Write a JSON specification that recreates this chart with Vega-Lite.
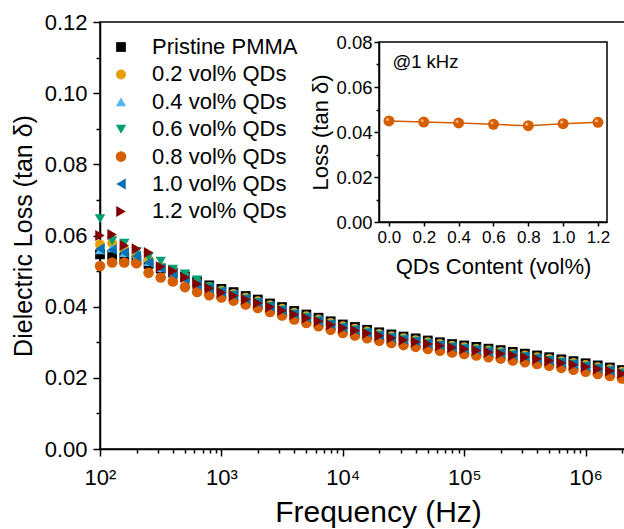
{
  "$schema": "https://vega.github.io/schema/vega-lite/v6.json",
  "width": 525,
  "height": 427,
  "autosize": "none",
  "padding": {"left": 100, "top": 22, "right": 0, "bottom": 80},
  "config": {
    "font": "Liberation Sans",
    "view": {"stroke": "black", "strokeWidth": 1.5},
    "axis": {"domainColor": "black", "domainWidth": 1.5, "tickColor": "black", "tickWidth": 1.5, "labelColor": "black", "titleColor": "black", "titleFontWeight": "normal", "grid": false, "labelFlush": false, "labelBound": false, "labelOverlap": false}
  },
  "datasets": {
    "inset": [
      {"c": 0.0, "v": 0.0449}, {"c": 0.2, "v": 0.0444}, {"c": 0.4, "v": 0.0440}, {"c": 0.6, "v": 0.0434}, {"c": 0.8, "v": 0.0428}, {"c": 1.0, "v": 0.0437}, {"c": 1.2, "v": 0.0443}
    ]
  },
  "layer": [
    {
      "data": {"values": [
        {"f": 100, "p00": 0.0547, "p02": 0.0575, "p04": 0.0560, "p06": 0.0647, "p08": 0.0514, "p10": 0.0563, "p12": 0.0600},
        {"f": 125.9, "p00": 0.0545, "p02": 0.0578, "p04": 0.0565, "p06": 0.0585, "p08": 0.0524, "p10": 0.0560, "p12": 0.0603},
        {"f": 158.5, "p00": 0.0538, "p02": 0.0560, "p04": 0.0552, "p06": 0.0578, "p08": 0.0524, "p10": 0.0552, "p12": 0.0572},
        {"f": 199.5, "p00": 0.0530, "p02": 0.0545, "p04": 0.0538, "p06": 0.0555, "p08": 0.0522, "p10": 0.0542, "p12": 0.0563},
        {"f": 251.2, "p00": 0.0520, "p02": 0.0532, "p04": 0.0527, "p06": 0.0540, "p08": 0.0495, "p10": 0.0524, "p12": 0.0552},
        {"f": 316.2, "p00": 0.0507, "p02": 0.0512, "p04": 0.0510, "p06": 0.0528, "p08": 0.0482, "p10": 0.0508, "p12": 0.0512},
        {"f": 398.1, "p00": 0.0496, "p02": 0.0498, "p04": 0.0497, "p06": 0.0505, "p08": 0.0471, "p10": 0.0492, "p12": 0.0500},
        {"f": 501.2, "p00": 0.0485, "p02": 0.0485, "p04": 0.0484, "p06": 0.0492, "p08": 0.0455, "p10": 0.0478, "p12": 0.0482},
        {"f": 631, "p00": 0.0470, "p02": 0.0467, "p04": 0.0467, "p06": 0.0475, "p08": 0.0441, "p10": 0.0462, "p12": 0.0464},
        {"f": 794.3, "p00": 0.0460, "p02": 0.0455, "p04": 0.0456, "p06": 0.0455, "p08": 0.0432, "p10": 0.0452, "p12": 0.0452},
        {"f": 1000, "p00": 0.0450, "p02": 0.0445, "p04": 0.0446, "p06": 0.0441, "p08": 0.0426, "p10": 0.0442, "p12": 0.0440},
        {"f": 1259, "p00": 0.0441, "p02": 0.0436, "p04": 0.0437, "p06": 0.0432, "p08": 0.0417, "p10": 0.0433, "p12": 0.0431},
        {"f": 1585, "p00": 0.0430, "p02": 0.0425, "p04": 0.0426, "p06": 0.0421, "p08": 0.0406, "p10": 0.0422, "p12": 0.0420},
        {"f": 1995, "p00": 0.0420, "p02": 0.0415, "p04": 0.0416, "p06": 0.0411, "p08": 0.0396, "p10": 0.0412, "p12": 0.0410},
        {"f": 2512, "p00": 0.0409, "p02": 0.0404, "p04": 0.0405, "p06": 0.0400, "p08": 0.0385, "p10": 0.0401, "p12": 0.0399},
        {"f": 3162, "p00": 0.0399, "p02": 0.0394, "p04": 0.0395, "p06": 0.0390, "p08": 0.0375, "p10": 0.0391, "p12": 0.0389},
        {"f": 3981, "p00": 0.0388, "p02": 0.0383, "p04": 0.0384, "p06": 0.0379, "p08": 0.0364, "p10": 0.0380, "p12": 0.0378},
        {"f": 5012, "p00": 0.0378, "p02": 0.0373, "p04": 0.0374, "p06": 0.0369, "p08": 0.0354, "p10": 0.0370, "p12": 0.0368},
        {"f": 6310, "p00": 0.0369, "p02": 0.0364, "p04": 0.0365, "p06": 0.0360, "p08": 0.0345, "p10": 0.0361, "p12": 0.0359},
        {"f": 7943, "p00": 0.0359, "p02": 0.0354, "p04": 0.0355, "p06": 0.0350, "p08": 0.0335, "p10": 0.0351, "p12": 0.0349},
        {"f": 10000, "p00": 0.0350, "p02": 0.0345, "p04": 0.0346, "p06": 0.0341, "p08": 0.0326, "p10": 0.0342, "p12": 0.0340},
        {"f": 12589, "p00": 0.0343, "p02": 0.0338, "p04": 0.0339, "p06": 0.0334, "p08": 0.0319, "p10": 0.0335, "p12": 0.0333},
        {"f": 15849, "p00": 0.0335, "p02": 0.0330, "p04": 0.0331, "p06": 0.0326, "p08": 0.0311, "p10": 0.0327, "p12": 0.0325},
        {"f": 19953, "p00": 0.0328, "p02": 0.0323, "p04": 0.0324, "p06": 0.0319, "p08": 0.0304, "p10": 0.0320, "p12": 0.0318},
        {"f": 25119, "p00": 0.0322, "p02": 0.0317, "p04": 0.0318, "p06": 0.0313, "p08": 0.0298, "p10": 0.0314, "p12": 0.0312},
        {"f": 31623, "p00": 0.0316, "p02": 0.0311, "p04": 0.0312, "p06": 0.0307, "p08": 0.0292, "p10": 0.0308, "p12": 0.0306},
        {"f": 39811, "p00": 0.0311, "p02": 0.0306, "p04": 0.0307, "p06": 0.0302, "p08": 0.0287, "p10": 0.0303, "p12": 0.0301},
        {"f": 50119, "p00": 0.0305, "p02": 0.0300, "p04": 0.0301, "p06": 0.0296, "p08": 0.0281, "p10": 0.0297, "p12": 0.0295},
        {"f": 63096, "p00": 0.0300, "p02": 0.0295, "p04": 0.0296, "p06": 0.0291, "p08": 0.0276, "p10": 0.0292, "p12": 0.0290},
        {"f": 79433, "p00": 0.0295, "p02": 0.0290, "p04": 0.0291, "p06": 0.0286, "p08": 0.0271, "p10": 0.0287, "p12": 0.0285},
        {"f": 100000, "p00": 0.0291, "p02": 0.0286, "p04": 0.0287, "p06": 0.0282, "p08": 0.0267, "p10": 0.0283, "p12": 0.0281},
        {"f": 125893, "p00": 0.0287, "p02": 0.0282, "p04": 0.0283, "p06": 0.0278, "p08": 0.0263, "p10": 0.0279, "p12": 0.0277},
        {"f": 158489, "p00": 0.0282, "p02": 0.0277, "p04": 0.0278, "p06": 0.0273, "p08": 0.0258, "p10": 0.0274, "p12": 0.0272},
        {"f": 199526, "p00": 0.0278, "p02": 0.0273, "p04": 0.0274, "p06": 0.0269, "p08": 0.0254, "p10": 0.0270, "p12": 0.0268},
        {"f": 251189, "p00": 0.0273, "p02": 0.0268, "p04": 0.0269, "p06": 0.0264, "p08": 0.0249, "p10": 0.0265, "p12": 0.0263},
        {"f": 316228, "p00": 0.0268, "p02": 0.0263, "p04": 0.0264, "p06": 0.0259, "p08": 0.0244, "p10": 0.0260, "p12": 0.0258},
        {"f": 398107, "p00": 0.0263, "p02": 0.0258, "p04": 0.0259, "p06": 0.0254, "p08": 0.0239, "p10": 0.0255, "p12": 0.0253},
        {"f": 501187, "p00": 0.0258, "p02": 0.0253, "p04": 0.0254, "p06": 0.0249, "p08": 0.0234, "p10": 0.0250, "p12": 0.0248},
        {"f": 630957, "p00": 0.0252, "p02": 0.0247, "p04": 0.0248, "p06": 0.0243, "p08": 0.0228, "p10": 0.0244, "p12": 0.0242},
        {"f": 794328, "p00": 0.0247, "p02": 0.0242, "p04": 0.0243, "p06": 0.0238, "p08": 0.0223, "p10": 0.0239, "p12": 0.0237},
        {"f": 1000000, "p00": 0.0241, "p02": 0.0236, "p04": 0.0237, "p06": 0.0232, "p08": 0.0217, "p10": 0.0233, "p12": 0.0231},
        {"f": 1258925, "p00": 0.0235, "p02": 0.0230, "p04": 0.0231, "p06": 0.0226, "p08": 0.0211, "p10": 0.0227, "p12": 0.0225},
        {"f": 1584893, "p00": 0.0229, "p02": 0.0224, "p04": 0.0225, "p06": 0.0220, "p08": 0.0205, "p10": 0.0221, "p12": 0.0219},
        {"f": 1995262, "p00": 0.0222, "p02": 0.0217, "p04": 0.0218, "p06": 0.0213, "p08": 0.0198, "p10": 0.0214, "p12": 0.0212}
      ]},
      "transform": [{"fold": ["p00", "p02", "p04", "p06", "p08", "p10", "p12"], "as": ["s", "v"]}],
      "mark": {"type": "point", "filled": true, "opacity": 1, "strokeWidth": 0},
      "encoding": {
        "x": {
          "field": "f", "type": "quantitative",
          "scale": {"type": "log", "domain": [100, 2111000], "nice": false},
          "axis": {
            "values": [100, 200, 300, 400, 500, 600, 700, 800, 900, 1000, 2000, 3000, 4000, 5000, 6000, 7000, 8000, 9000, 10000, 20000, 30000, 40000, 50000, 60000, 70000, 80000, 90000, 100000, 200000, 300000, 400000, 500000, 600000, 700000, 800000, 900000, 1000000, 2000000],
            "labelExpr": "abs(log(datum.value)/LN10 - round(log(datum.value)/LN10)) < 0.01 ? '10' + ['⁰','¹','²','³','⁴','⁵','⁶','⁷'][round(log(datum.value)/LN10)] : ''",
            "tickSize": {"condition": {"test": "abs(log(datum.value)/LN10 - round(log(datum.value)/LN10)) < 0.01", "value": 7}, "value": 4},
            "labelFontSize": 22, "labelPadding": 11,
            "title": "Frequency (Hz)", "titleFontSize": 30, "titleX": 278, "titleY": 72, "titleAlign": "center", "titleBaseline": "alphabetic"
          }
        },
        "y": {
          "field": "v", "type": "quantitative",
          "scale": {"domain": [0, 0.12], "nice": false, "zero": false},
          "axis": {
            "values": [0, 0.01, 0.02, 0.03, 0.04, 0.05, 0.06, 0.07, 0.08, 0.09, 0.1, 0.11, 0.12],
            "labelExpr": "round(datum.value*100) % 2 == 0 ? format(datum.value, '.2f') : ''",
            "tickSize": {"condition": {"test": "round(datum.value*100) % 2 == 0", "value": 7}, "value": 4},
            "labelFontSize": 22, "labelPadding": 6,
            "title": "Dielectric Loss (tan δ)", "titleFontSize": 25, "titlePadding": 8
          }
        },
        "color": {
          "field": "s", "type": "nominal",
          "scale": {"domain": ["p00", "p02", "p04", "p06", "p08", "p10", "p12"], "range": ["#000000", "#E69F00", "#56B4E9", "#009E73", "#D55E00", "#0072B2", "#800000"]},
          "legend": {"orient": "none", "legendX": 10, "legendY": 14, "title": null, "padding": 0, "labelFontSize": 22, "labelColor": "black", "symbolSize": 150, "symbolStrokeWidth": 0, "labelOffset": 20, "rowPadding": 5.4,
            "labelExpr": "datum.label == 'p00' ? 'Pristine PMMA' : datum.label == 'p02' ? '0.2 vol% QDs' : datum.label == 'p04' ? '0.4 vol% QDs' : datum.label == 'p06' ? '0.6 vol% QDs' : datum.label == 'p08' ? '0.8 vol% QDs' : datum.label == 'p10' ? '1.0 vol% QDs' : '1.2 vol% QDs'"}
        },
        "shape": {
          "field": "s", "type": "nominal",
          "scale": {"domain": ["p00", "p02", "p04", "p06", "p08", "p10", "p12"], "range": ["square", "circle", "triangle-up", "triangle-down", "circle", "triangle-left", "triangle-right"]},
          "legend": {"orient": "none", "legendX": 10, "legendY": 14, "title": null, "padding": 0, "labelFontSize": 22, "labelColor": "black", "symbolSize": 150, "symbolStrokeWidth": 0, "labelOffset": 20, "rowPadding": 5.4,
            "labelExpr": "datum.label == 'p00' ? 'Pristine PMMA' : datum.label == 'p02' ? '0.2 vol% QDs' : datum.label == 'p04' ? '0.4 vol% QDs' : datum.label == 'p06' ? '0.6 vol% QDs' : datum.label == 'p08' ? '0.8 vol% QDs' : datum.label == 'p10' ? '1.0 vol% QDs' : '1.2 vol% QDs'"}
        },
        "size": {
          "field": "s", "type": "nominal",
          "scale": {"domain": ["p00", "p02", "p04", "p06", "p08", "p10", "p12"], "range": [95, 120, 220, 220, 150, 230, 230]},
          "legend": null
        },
        "order": {"field": "s", "sort": "ascending"}
      }
    },
    {
      "data": {"values": [{}]},
      "mark": {"type": "rect", "fill": "white", "stroke": "black", "strokeWidth": 1.5},
      "encoding": {
        "x": {"datum": -0.057, "type": "quantitative", "scale": {"domain": [-0.057, 1.252], "range": [279, 507], "nice": false, "zero": false}, "axis": null},
        "x2": {"datum": 1.252},
        "y": {"datum": 0, "type": "quantitative", "scale": {"domain": [0, 0.08], "range": [200, 20], "nice": false, "zero": false}, "axis": null},
        "y2": {"datum": 0.08}
      }
    },
    {
      "data": {"name": "inset"},
      "mark": {"type": "line", "color": "#D55E00", "strokeWidth": 1.5},
      "encoding": {
        "x": {"field": "c", "type": "quantitative", "scale": {"domain": [-0.057, 1.252], "range": [279, 507], "nice": false, "zero": false}, "axis": null},
        "y": {"field": "v", "type": "quantitative", "scale": {"domain": [0, 0.08], "range": [200, 20], "nice": false, "zero": false}, "axis": null}
      }
    },
    {
      "data": {"name": "inset"},
      "mark": {"type": "point", "filled": true, "color": "#D55E00", "size": 120, "opacity": 1},
      "encoding": {
        "x": {
          "field": "c", "type": "quantitative",
          "scale": {"domain": [-0.057, 1.252], "range": [279, 507], "nice": false, "zero": false},
          "axis": {"orient": "bottom", "offset": -227, "zindex": 1, "values": [0, 0.2, 0.4, 0.6, 0.8, 1.0, 1.2], "format": ".1f", "labelFontSize": 17, "tickSize": 4, "labelPadding": 3, "title": "QDs Content (vol%)", "titleFontSize": 22, "titlePadding": 11}
        },
        "y": {
          "field": "v", "type": "quantitative",
          "scale": {"domain": [0, 0.08], "range": [200, 20], "nice": false, "zero": false},
          "axis": {"orient": "left", "offset": -279, "zindex": 1, "values": [0, 0.01, 0.02, 0.03, 0.04, 0.05, 0.06, 0.07, 0.08],
            "labelExpr": "round(datum.value*100) % 2 == 0 ? format(datum.value, '.2f') : ''",
            "tickSize": {"condition": {"test": "round(datum.value*100) % 2 == 0", "value": 5}, "value": 3},
            "labelFontSize": 18.5, "labelPadding": 2, "title": "Loss (tan δ)", "titleFontSize": 22, "titlePadding": 3}
        }
      }
    },
    {
      "data": {"name": "inset"},
      "mark": {"type": "point", "filled": true, "color": "#F6B88A", "size": 10, "opacity": 0.9, "xOffset": -1.5, "yOffset": -1.5},
      "encoding": {
        "x": {"field": "c", "type": "quantitative", "scale": {"domain": [-0.057, 1.252], "range": [279, 507], "nice": false, "zero": false}, "axis": null},
        "y": {"field": "v", "type": "quantitative", "scale": {"domain": [0, 0.08], "range": [200, 20], "nice": false, "zero": false}, "axis": null}
      }
    },
    {
      "data": {"values": [{}]},
      "mark": {"type": "text", "text": "@1 kHz", "align": "left", "baseline": "middle", "fontSize": 18.5, "color": "black"},
      "encoding": {
        "x": {"datum": 0.02, "type": "quantitative", "scale": {"domain": [-0.057, 1.252], "range": [279, 507], "nice": false, "zero": false}, "axis": null},
        "y": {"datum": 0.0712, "type": "quantitative", "scale": {"domain": [0, 0.08], "range": [200, 20], "nice": false, "zero": false}, "axis": null}
      }
    }
  ],
  "resolve": {"scale": {"x": "independent", "y": "independent"}, "axis": {"x": "independent", "y": "independent"}}
}
